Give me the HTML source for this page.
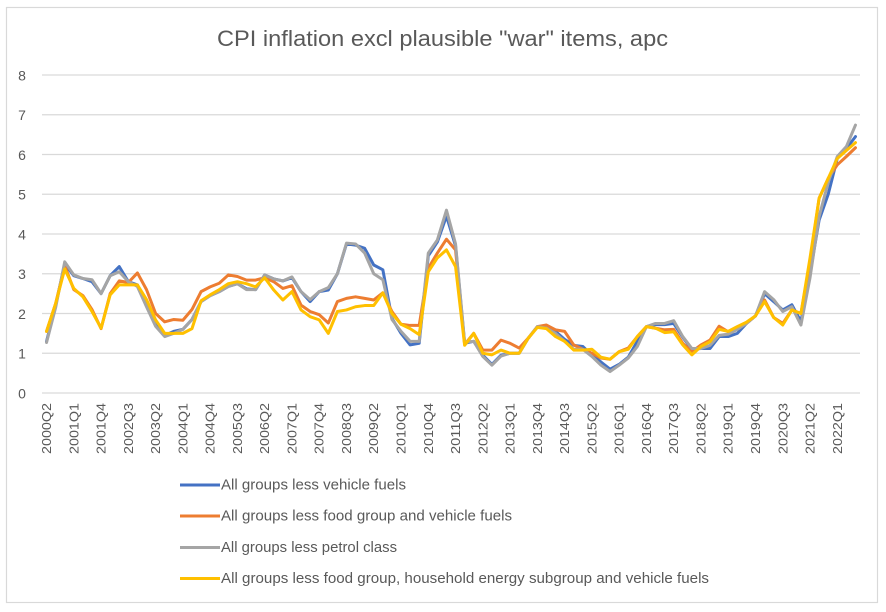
<!DOCTYPE html>
<html>
<head>
<meta charset="utf-8">
<style>
html,body{margin:0;padding:0;background:#fff;}
svg{display:block;}
text{font-family:"Liberation Sans",Arial,sans-serif;fill:#595959;}
</style>
</head>
<body>
<svg width="886" height="612" viewBox="0 0 886 612" xmlns="http://www.w3.org/2000/svg">
<rect x="0" y="0" width="886" height="612" fill="#fff"/>
<rect x="6.5" y="7.5" width="871" height="595" fill="#fff" stroke="#d9d9d9" stroke-width="1.2"/>
<text x="217" y="46" font-size="22" textLength="451" lengthAdjust="spacingAndGlyphs">CPI inflation excl plausible "war" items, apc</text>
<g id="grid" stroke="#d9d9d9" stroke-width="1.2"></g>
<g id="ylab" font-size="14" text-anchor="middle"></g>
<g id="xlab" font-size="12.5"></g>
<g id="series" fill="none" stroke-width="3" stroke-linejoin="round" stroke-linecap="round"></g>
<g stroke-width="3">
<line x1="180" y1="485" x2="220" y2="485" stroke="#4472C4"/>
<line x1="180" y1="516" x2="220" y2="516" stroke="#ED7D31"/>
<line x1="180" y1="547.5" x2="220" y2="547.5" stroke="#A5A5A5"/>
<line x1="180" y1="578.5" x2="220" y2="578.5" stroke="#FFC000"/>
</g>
<g font-size="15">
<text x="221" y="489.5" textLength="185" lengthAdjust="spacingAndGlyphs">All groups less vehicle fuels</text>
<text x="221" y="520.5" textLength="291" lengthAdjust="spacingAndGlyphs">All groups less food group and vehicle fuels</text>
<text x="221" y="552" textLength="176" lengthAdjust="spacingAndGlyphs">All groups less petrol class</text>
<text x="221" y="583" textLength="488" lengthAdjust="spacingAndGlyphs">All groups less food group, household energy subgroup and vehicle fuels</text>
</g>
</svg>
<script>
(function(){
var NS="http://www.w3.org/2000/svg";
function y(v){return 393-39.75*v;}
function x(i){return 42+(i+0.5)*9.089;}
var grid=document.getElementById("grid"),ylab=document.getElementById("ylab"),xlab=document.getElementById("xlab"),ser=document.getElementById("series");
for(var v=0;v<=8;v++){
 var l=document.createElementNS(NS,"line");
 l.setAttribute("x1",42);l.setAttribute("x2",860);l.setAttribute("y1",y(v));l.setAttribute("y2",y(v));
 grid.appendChild(l);
 var t=document.createElementNS(NS,"text");
 t.setAttribute("x",22);t.setAttribute("y",y(v)+5.3);t.textContent=String(v);
 ylab.appendChild(t);
}
var yr=2000,q=2;
for(var i=0;i<90;i++){
 if(i%3===0){
  var t=document.createElementNS(NS,"text");
  t.setAttribute("transform","translate("+(x(i)+4.5)+",403) rotate(-90)");
  t.setAttribute("text-anchor","end");
  t.setAttribute("textLength","51");
  t.setAttribute("lengthAdjust","spacingAndGlyphs");
  t.textContent=yr+"Q"+q;
  xlab.appendChild(t);
 }
 q++; if(q>4){q=1;yr++;}
}
var B=[1.3,2.2,3.25,2.95,2.88,2.8,2.5,2.95,3.18,2.8,2.72,2.2,1.72,1.45,1.55,1.6,1.85,2.3,2.45,2.55,2.68,2.75,2.62,2.6,2.97,2.87,2.82,2.9,2.55,2.3,2.55,2.59,3.0,3.75,3.72,3.64,3.22,3.1,1.88,1.5,1.21,1.25,3.45,3.8,4.45,3.7,1.25,1.3,0.95,0.72,0.95,1.0,1.0,1.38,1.67,1.63,1.55,1.35,1.2,1.17,0.95,0.78,0.6,0.72,0.9,1.3,1.67,1.72,1.72,1.75,1.4,1.1,1.12,1.12,1.42,1.42,1.5,1.75,1.94,2.5,2.3,2.09,2.22,1.8,3.0,4.35,5.0,5.9,6.15,6.45];
var O=[1.55,2.25,3.2,2.6,2.45,2.1,1.62,2.5,2.82,2.78,3.02,2.6,2.0,1.79,1.85,1.83,2.1,2.55,2.67,2.76,2.97,2.93,2.84,2.84,2.9,2.8,2.63,2.7,2.21,2.05,1.97,1.76,2.3,2.38,2.42,2.38,2.34,2.52,2.05,1.73,1.7,1.7,3.14,3.52,3.87,3.6,1.22,1.5,1.08,1.08,1.33,1.25,1.13,1.38,1.67,1.71,1.59,1.55,1.21,1.1,1.0,0.88,0.85,1.04,1.13,1.42,1.67,1.63,1.59,1.6,1.25,1.04,1.21,1.33,1.68,1.54,1.62,1.75,1.94,2.34,1.9,1.75,2.09,2.0,3.3,4.9,5.4,5.74,5.95,6.17];
var G=[1.27,2.15,3.3,2.97,2.88,2.85,2.5,2.95,3.05,2.8,2.68,2.17,1.68,1.42,1.5,1.6,1.85,2.3,2.45,2.55,2.68,2.75,2.6,2.6,2.97,2.87,2.82,2.92,2.55,2.35,2.55,2.65,3.0,3.77,3.75,3.52,3.0,2.85,1.85,1.55,1.3,1.3,3.52,3.85,4.6,3.75,1.28,1.3,0.92,0.7,0.93,1.0,1.0,1.38,1.67,1.63,1.5,1.3,1.1,1.1,0.92,0.7,0.54,0.7,0.88,1.17,1.67,1.75,1.75,1.82,1.42,1.12,1.12,1.2,1.45,1.48,1.6,1.75,1.94,2.55,2.35,2.05,2.17,1.71,2.9,4.44,5.3,5.95,6.2,6.74];
var Y=[1.55,2.25,3.12,2.63,2.42,2.05,1.63,2.47,2.72,2.72,2.72,2.35,1.84,1.5,1.5,1.5,1.62,2.32,2.47,2.6,2.75,2.8,2.75,2.67,2.9,2.59,2.34,2.55,2.09,1.92,1.84,1.5,2.05,2.09,2.17,2.2,2.2,2.52,2.0,1.73,1.62,1.47,3.05,3.4,3.6,3.18,1.2,1.5,1.0,0.96,1.08,1.0,1.0,1.38,1.65,1.62,1.42,1.3,1.08,1.08,1.1,0.9,0.85,1.04,1.1,1.42,1.67,1.63,1.52,1.54,1.21,0.96,1.17,1.29,1.6,1.55,1.67,1.78,1.94,2.3,1.9,1.71,2.09,2.0,3.4,4.9,5.4,5.9,6.1,6.3];
function draw(d,c){
 var p=[];for(var i=0;i<d.length;i++){p.push(x(i).toFixed(2)+","+y(d[i]).toFixed(2));}
 var e=document.createElementNS(NS,"polyline");
 e.setAttribute("points",p.join(" "));e.setAttribute("stroke",c);
 ser.appendChild(e);
}
draw(B,"#4472C4");draw(O,"#ED7D31");draw(G,"#A5A5A5");draw(Y,"#FFC000");
})();
</script>
</body>
</html>
